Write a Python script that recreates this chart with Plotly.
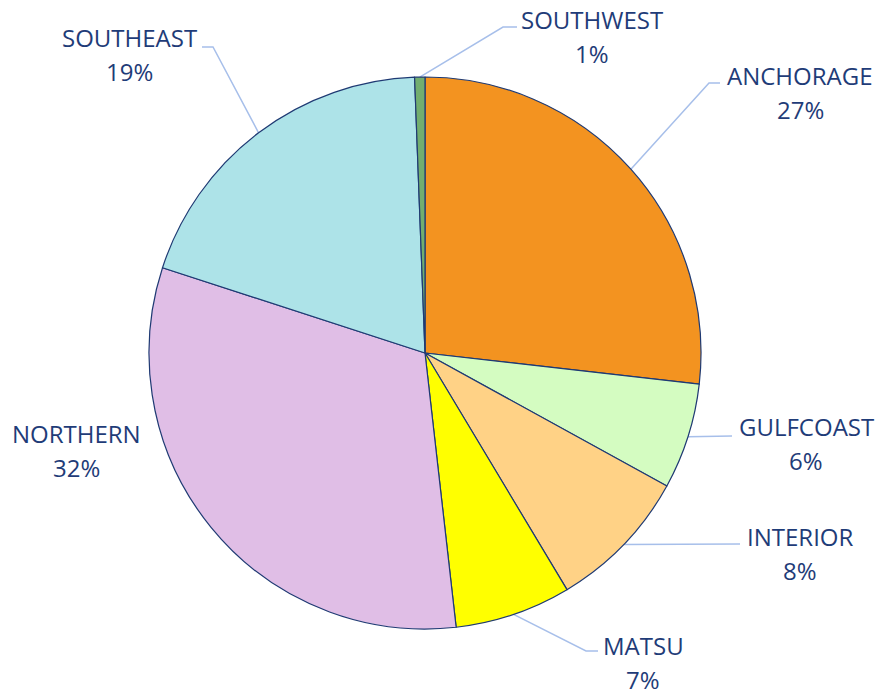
import math
import plotly.graph_objects as go

# ---- data ----
regions = ["ANCHORAGE", "GULFCOAST", "INTERIOR", "MATSU", "NORTHERN", "SOUTHEAST", "SOUTHWEST"]
shares = [26.8, 6.2, 8.4, 6.8, 31.8, 19.4, 0.6]

# ---- styles / layout (pixel positions in an 878x693 canvas) ----
colors = ["#F39320", "#D4FCC1", "#FFD286", "#FFFF00", "#E0BEE6", "#ADE3E8", "#72AE6F"]
W, H = 878, 693
CX, CY, R = 425, 353, 276
name_pos = {  # centre of the region-name line
    "ANCHORAGE": (800, 75), "GULFCOAST": (806, 426), "INTERIOR": (800, 536),
    "MATSU": (643, 645), "NORTHERN": (76, 433), "SOUTHEAST": (129, 37),
    "SOUTHWEST": (592, 19),
}
pct_dy = 34
leader_path = {  # elbow points after leaving the slice edge
    "ANCHORAGE": [(709, 83), (720, 83)],
    "GULFCOAST": [(732, 436)],
    "INTERIOR": [(740, 544)],
    "MATSU": [(586, 651), (598, 651)],
    "SOUTHEAST": [(213, 47), (202, 47)],
    "SOUTHWEST": [(503, 27), (517, 27)],
}
text_color = "#1F3C78"
leader_color = "#A7BFEA"
font = dict(family="Open Sans", size=24, color=text_color)

fig = go.Figure()

fig.add_trace(go.Pie(
    labels=regions, values=shares, sort=False, direction="clockwise", rotation=0,
    marker=dict(colors=colors, line=dict(color="#1F3A73", width=1.2)),
    textinfo="none", hoverinfo="label+percent", showlegend=False,
    domain=dict(x=[(CX - R) / W, (CX + R) / W], y=[(H - CY - R) / H, (H - CY + R) / H]),
))

total = sum(shares)
cum = 0.0
for name, v in zip(regions, shares):
    mid = (cum + v / 2) / total * 2 * math.pi
    cum += v
    if name in leader_path:
        ex = CX + R * math.sin(mid)
        ey = CY - R * math.cos(mid)
        pts = [(ex, ey)] + leader_path[name]
        fig.add_trace(go.Scatter(
            x=[p[0] for p in pts], y=[p[1] for p in pts], mode="lines",
            line=dict(color=leader_color, width=1.5), hoverinfo="skip", showlegend=False,
        ))
    pct = round(v / total * 100)
    lx, ly = name_pos[name]
    fig.add_annotation(x=lx, y=ly, xref="x", yref="y", text=name, showarrow=False,
                       font=font, xanchor="center", yanchor="middle")
    fig.add_annotation(x=lx, y=ly + pct_dy, xref="x", yref="y", text=f"{pct}%", showarrow=False,
                       font=font, xanchor="center", yanchor="middle")

fig.update_layout(
    width=W, height=H, margin=dict(l=0, r=0, t=0, b=0),
    paper_bgcolor="white", plot_bgcolor="rgba(0,0,0,0)",
    xaxis=dict(range=[0, W], visible=False, fixedrange=True),
    yaxis=dict(range=[H, 0], visible=False, fixedrange=True),
)

fig.write_html("out.html", config={"displayModeBar": False},
               post_script="document.body.style.margin='0';document.body.style.overflow='hidden';")
